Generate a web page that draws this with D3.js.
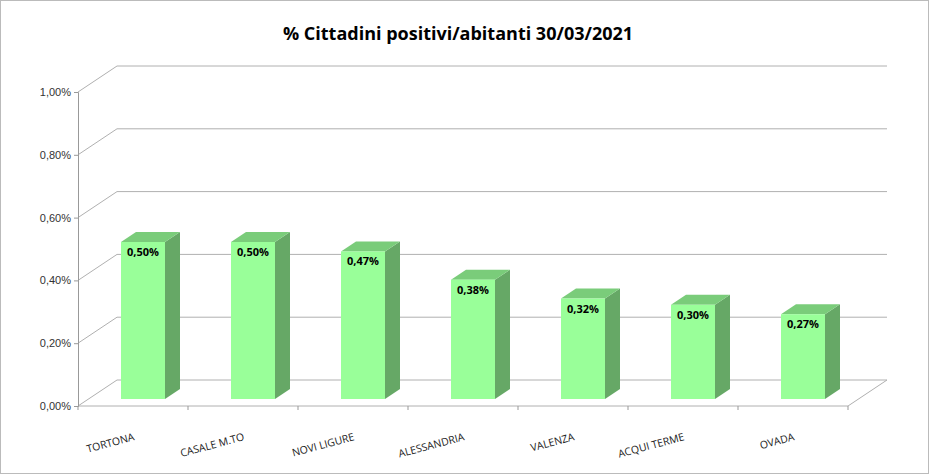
<!DOCTYPE html>
<html><head><meta charset="utf-8">
<script src="https://cdn.jsdelivr.net/npm/d3@7"></script>
<style>body{margin:0;background:#fff;font-family:"Open Sans",sans-serif}</style>
</head><body><div id="plot"></div>
<script>
const w = 929, h = 474;
const categories = ["TORTONA", "CASALE M.TO", "NOVI LIGURE", "ALESSANDRIA", "VALENZA", "ACQUI TERME", "OVADA"];
const values = [0.50, 0.50, 0.47, 0.38, 0.32, 0.30, 0.27];
const ticks = [0, 0.2, 0.4, 0.6, 0.8, 1.0];

const depth = {dx: 39, dy: -26};
const fmt = v => v.toFixed(2).replace(".", ",") + "%";

const svg = d3.select("#plot").append("svg").attr("width", w).attr("height", h);
svg.append("rect").attr("x", 0.5).attr("y", 0.5).attr("width", w - 1).attr("height", h - 1)
    .attr("fill", "#fff").attr("stroke", "#bbb");

svg.append("text").attr("x", 458).attr("y", 40).attr("text-anchor", "middle")
    .attr("font-size", 18).attr("font-weight", "bold").text("% Cittadini positivi/abitanti 30/03/2021");

// front axis scale
const y = d3.scaleLinear().domain([0, 1]).range([406, 92]);
const x = d3.scaleBand().domain(categories).range([88, 858]).paddingInner(0.6).paddingOuter(0.3);
const x0 = 78, xR = 848;

// gridlines on back wall + diagonal on left wall
const grid = svg.append("g").attr("stroke", "#b0b0b0").attr("fill", "none");
ticks.forEach(t => {
  grid.append("line").attr("x1", x0).attr("y1", y(t)).attr("x2", x0 + depth.dx).attr("y2", y(t) + depth.dy);
  grid.append("line").attr("x1", x0 + depth.dx).attr("y1", y(t) + depth.dy).attr("x2", xR + depth.dx).attr("y2", y(t) + depth.dy);
});
grid.append("line").attr("x1", x0).attr("y1", y(0)).attr("x2", xR).attr("y2", y(0));
grid.append("line").attr("x1", xR).attr("y1", y(0)).attr("x2", xR + depth.dx).attr("y2", y(0) + depth.dy);

// y axis
const yAxis = d3.axisLeft(y).tickValues(ticks).tickFormat(d => fmt(d * 1)).tickSize(4);
const ya = svg.append("g").attr("transform", `translate(${x0},0)`).call(yAxis);
ya.selectAll("path,line").attr("stroke", "#999");
ya.selectAll("text").attr("font-size", 11).attr("fill", "#333");

// x axis ticks
const xa = svg.append("g");
xa.selectAll("line").data(d3.range(categories.length + 1)).enter().append("line")
    .attr("x1", i => x0 + i * (xR - x0) / categories.length).attr("x2", i => x0 + i * (xR - x0) / categories.length)
    .attr("y1", y(0)).attr("y2", y(0) + 4).attr("stroke", "#999");
xa.selectAll("text").data(categories).enter().append("text")
    .attr("transform", d => `translate(${x(d) + x.bandwidth() / 2 - 8},${y(0) + 34}) rotate(-15)`)
    .attr("text-anchor", "end").attr("font-size", 10.5).attr("fill", "#222").text(d => d);

// bars at mid-depth
const bd = {dx: 15, dy: -10};
const ym = d3.scaleLinear().domain([0, 1]).range([y(0) - 7, y(1) - 7]);
const bars = svg.append("g").selectAll("g").data(categories.map((c, i) => ({c, v: values[i]}))).enter().append("g");
bars.append("polygon").attr("fill", "#66a866").attr("points", d => {
  const xr = x(d.c) + x.bandwidth(), yt = ym(d.v), yb = ym(0);
  return [[xr, yb], [xr + bd.dx, yb + bd.dy], [xr + bd.dx, yt + bd.dy], [xr, yt]].join(" ");
});
bars.append("polygon").attr("fill", "#7acc7a").attr("points", d => {
  const xl = x(d.c), xr = xl + x.bandwidth(), yt = ym(d.v);
  return [[xl, yt], [xl + bd.dx, yt + bd.dy], [xr + bd.dx, yt + bd.dy], [xr, yt]].join(" ");
});
bars.append("rect").attr("fill", "#99ff99")
    .attr("x", d => x(d.c)).attr("width", x.bandwidth())
    .attr("y", d => ym(d.v)).attr("height", d => ym(0) - ym(d.v));
bars.append("text").attr("x", d => x(d.c) + x.bandwidth() / 2).attr("y", d => ym(d.v) + 14)
    .attr("text-anchor", "middle").attr("font-size", 11).attr("font-weight", "bold").text(d => fmt(d.v));
</script></body></html>
